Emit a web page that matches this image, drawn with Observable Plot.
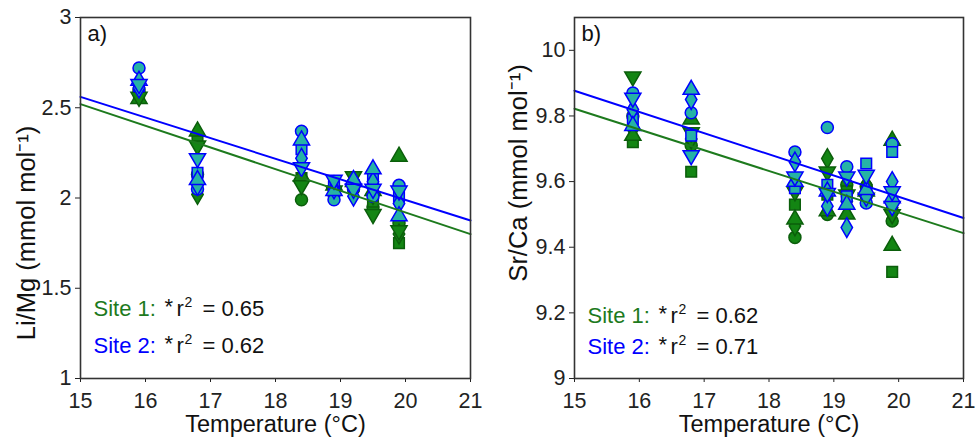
<!DOCTYPE html>
<html><head><meta charset="utf-8">
<script src="https://cdn.jsdelivr.net/npm/d3@7"></script>
<script src="https://cdn.jsdelivr.net/npm/@observablehq/plot@0.6"></script>
<style>
body{margin:0;background:#fff;}
#wrap{display:flex;width:975px;height:441px;}
</style></head><body><div id="wrap"></div>
<script>
// ---------- data ----------
const xTicks = [15, 16, 17, 18, 19, 20, 21];
const liMgTicks = [1, 1.5, 2, 2.5, 3];
const srCaTicks = [9, 9.2, 9.4, 9.6, 9.8, 10];

// [temperature °C, marker, value]
const liMgSite1 = [
  [15.9,"square",2.58],[15.9,"circle",2.60],[15.9,"diamond",2.59],[15.9,"triangle",2.55],[15.9,"triangleDown",2.56],
  [16.8,"triangle",2.37],[16.8,"square",2.33],[16.8,"triangleDown",2.29],[16.8,"circle",2.13],[16.8,"diamond",2.02],
  [18.4,"triangle",2.12],[18.4,"square",2.11],[18.4,"diamond",2.10],[18.4,"triangleDown",2.07],[18.4,"circle",1.99],
  [18.9,"triangle",2.07],[18.9,"square",2.06],[18.9,"triangleDown",2.04],[18.9,"diamond",2.03],[18.9,"circle",2.02],
  [19.2,"triangleDown",2.12],[19.2,"triangle",2.09],[19.2,"square",2.07],[19.2,"circle",2.05],[19.2,"diamond",2.05],
  [19.5,"triangle",2.04],[19.5,"diamond",2.02],[19.5,"square",1.98],[19.5,"circle",1.95],[19.5,"triangleDown",1.91],
  [19.9,"triangle",2.23],[19.9,"circle",1.86],[19.9,"triangleDown",1.82],[19.9,"diamond",1.80],[19.9,"square",1.75]
];
const liMgSite2 = [
  [15.9,"circle",2.72],[15.9,"triangle",2.65],[15.9,"triangleDown",2.63],[15.9,"square",2.62],[15.9,"diamond",2.61],
  [16.8,"triangleDown",2.22],[16.8,"square",2.14],[16.8,"triangle",2.10],[16.8,"diamond",2.07],[16.8,"circle",2.05],
  [18.4,"circle",2.37],[18.4,"triangle",2.32],[18.4,"square",2.27],[18.4,"diamond",2.22],[18.4,"triangleDown",2.17],
  [18.9,"triangleDown",2.10],[18.9,"square",2.08],[18.9,"diamond",2.05],[18.9,"triangle",2.04],[18.9,"circle",1.99],
  [19.2,"triangle",2.10],[19.2,"square",2.07],[19.2,"circle",2.06],[19.2,"triangleDown",2.05],[19.2,"diamond",2.01],
  [19.5,"triangle",2.16],[19.5,"square",2.11],[19.5,"diamond",2.09],[19.5,"triangleDown",2.05],[19.5,"circle",2.01],
  [19.9,"circle",2.07],[19.9,"triangleDown",2.04],[19.9,"square",2.01],[19.9,"diamond",1.97],[19.9,"triangle",1.90]
];
const srCaSite1 = [
  [15.9,"triangleDown",9.92],[15.9,"circle",9.80],[15.9,"diamond",9.76],[15.9,"triangle",9.74],[15.9,"square",9.72],
  [16.8,"triangle",9.79],[16.8,"triangleDown",9.75],[16.8,"diamond",9.73],[16.8,"circle",9.71],[16.8,"square",9.63],
  [18.4,"triangleDown",9.57],[18.4,"square",9.53],[18.4,"triangle",9.485],[18.4,"diamond",9.465],[18.4,"circle",9.43],
  [18.9,"diamond",9.67],[18.9,"triangleDown",9.63],[18.9,"square",9.56],[18.9,"triangle",9.51],[18.9,"circle",9.50],
  [19.2,"circle",9.59],[19.2,"square",9.57],[19.2,"triangleDown",9.56],[19.2,"diamond",9.54],[19.2,"triangle",9.50],
  [19.5,"diamond",9.59],[19.5,"circle",9.585],[19.5,"triangle",9.57],[19.5,"square",9.565],[19.5,"triangleDown",9.55],
  [19.9,"triangle",9.725],[19.9,"diamond",9.52],[19.9,"triangleDown",9.50],[19.9,"circle",9.48],[19.9,"triangle",9.405],[19.9,"square",9.325]
];
const srCaSite2 = [
  [15.9,"circle",9.87],[15.9,"triangleDown",9.855],[15.9,"diamond",9.82],[15.9,"square",9.79],[15.9,"triangle",9.77],
  [16.8,"triangle",9.88],[16.8,"diamond",9.85],[16.8,"circle",9.81],[16.8,"square",9.74],[16.8,"triangleDown",9.68],
  [18.4,"circle",9.69],[18.4,"diamond",9.66],[18.4,"triangle",9.60],[18.4,"triangleDown",9.615],[18.4,"square",9.58],
  [18.9,"circle",9.765],[18.9,"square",9.59],[18.9,"triangle",9.57],[18.9,"triangleDown",9.565],[18.9,"diamond",9.525],
  [19.2,"circle",9.645],[19.2,"triangleDown",9.615],[19.2,"square",9.555],[19.2,"triangle",9.53],[19.2,"diamond",9.46],
  [19.5,"square",9.655],[19.5,"triangleDown",9.62],[19.5,"triangle",9.575],[19.5,"diamond",9.555],[19.5,"circle",9.535],
  [19.9,"circle",9.715],[19.9,"square",9.69],[19.9,"diamond",9.60],[19.9,"triangleDown",9.57],[19.9,"triangle",9.55],[19.9,"triangleDown",9.525]
];

// fitted regression lines: [temperature, value] at the axis ends
const liMgFit1 = [[15, 2.52], [21, 1.80]];
const liMgFit2 = [[15, 2.56], [21, 1.875]];
const srCaFit1 = [[15, 9.822], [21, 9.443]];
const srCaFit2 = [[15, 9.877], [21, 9.489]];

const r2LiMg = ["0.65", "0.62"];
const r2SrCa = ["0.62", "0.71"];

// ---------- styling ----------
const green = "#1d7a1d", greenFill = "#138513", greenStroke = "#0b5e0b";
const blue = "#0000ff", tealFill = "#26b2a6";
const font = "Liberation Sans, Arial, Helvetica, sans-serif";

const sqrt3 = Math.sqrt(3);
const triangleDown = {
  draw(context, size) {
    const y = -Math.sqrt(size / (sqrt3 * 3));
    context.moveTo(0, -y * 2);
    context.lineTo(-sqrt3 * y, y);
    context.lineTo(sqrt3 * y, y);
    context.closePath();
  }
};
const symbolOf = {circle: "circle", square: "square", diamond: "diamond", triangle: "triangle", triangleDown};
const shapes = ["circle", "square", "diamond", "triangle", "triangleDown"];

function dots(data, fill, stroke) {
  return shapes.map(s => Plot.dot(data.filter(d => d[1] === s), {
    x: d => d[0], y: d => d[2], symbol: symbolOf[s], r: 6,
    fill, stroke, strokeWidth: 1.5
  }));
}

function label(str, opts) {
  return Plot.text([str], {text: d => d, frameAnchor: "bottom-left", textAnchor: "start", lineAnchor: "bottom", fontSize: 22, fill: "#111", ...opts});
}

function stats(base, value, color, name) {
  return [
    label(name, {dx: 13, dy: base, fill: color}),
    label("*", {dx: 84, dy: base - 2}),
    label("r", {dx: 96, dy: base}),
    label("2", {dx: 104, dy: base - 9, fontSize: 14}),
    label(`= ${value}`, {dx: 122, dy: base})
  ];
}

function panel(o) {
  return Plot.plot({
    width: o.width, height: 441,
    marginTop: 17, marginBottom: 63, marginLeft: o.marginLeft, marginRight: o.marginRight,
    x: {domain: [15, 21]},
    y: {domain: o.yDomain},
    style: {fontFamily: font, color: "#222", background: "white", overflow: "visible"},
    marks: [
      Plot.axisX({ticks: xTicks, tickSize: 4, tickPadding: 10, fontSize: 21.5, label: null, tickFormat: d => String(d)}),
      Plot.axisY({ticks: o.yTicks, tickSize: 5, tickPadding: 4, fontSize: 21.5, label: null, tickFormat: d => String(+d.toFixed(1))}),
      ...dots(o.site1, greenFill, greenStroke),
      ...dots(o.site2, tealFill, blue),
      Plot.line(o.fit1, {x: d => d[0], y: d => d[1], stroke: green, strokeWidth: 2}),
      Plot.line(o.fit2, {x: d => d[0], y: d => d[1], stroke: blue, strokeWidth: 2}),
      Plot.frame({stroke: "#333", strokeWidth: 1.6}),
      Plot.text([o.letter], {text: d => d, frameAnchor: "top-left", dx: 7, dy: 23, textAnchor: "start", lineAnchor: "bottom", fontSize: 22, fill: "#111"}),
      Plot.text(["Temperature (°C)"], {text: d => d, frameAnchor: "bottom", dy: 53, lineAnchor: "bottom", fontSize: 23.5, fill: "#111"}),
      Plot.text([o.yLabel], {text: d => d, frameAnchor: "left", rotate: -90, dx: o.yLabelDx, dy: o.yLabelDy, lineAnchor: "bottom", textAnchor: "middle", fontSize: 25.5, fill: "#111"}),
      ...stats(o.base1, o.r2[0], green, "Site 1:"),
      ...stats(o.base2, o.r2[1], blue, "Site 2:")
    ]
  });
}

const wrap = document.getElementById("wrap");
wrap.append(panel({
  width: 487, marginLeft: 80, marginRight: 17, yDomain: [1, 3], yTicks: liMgTicks,
  site1: liMgSite1, site2: liMgSite2, fit1: liMgFit1, fit2: liMgFit2,
  letter: "a)", yLabel: "Li/Mg (mmol mol⁻¹)", yLabelDx: -46, yLabelDy: 35,
  base1: -63, base2: -26, r2: r2LiMg
}));
wrap.append(panel({
  width: 488, marginLeft: 87, marginRight: 12, yDomain: [9, 10.1], yTicks: srCaTicks,
  site1: srCaSite1, site2: srCaSite2, fit1: srCaFit1, fit2: srCaFit2,
  letter: "b)", yLabel: "Sr/Ca (mmol mol⁻¹)", yLabelDx: -48, yLabelDy: -25,
  base1: -56, base2: -25, r2: r2SrCa
}));
</script></body></html>
